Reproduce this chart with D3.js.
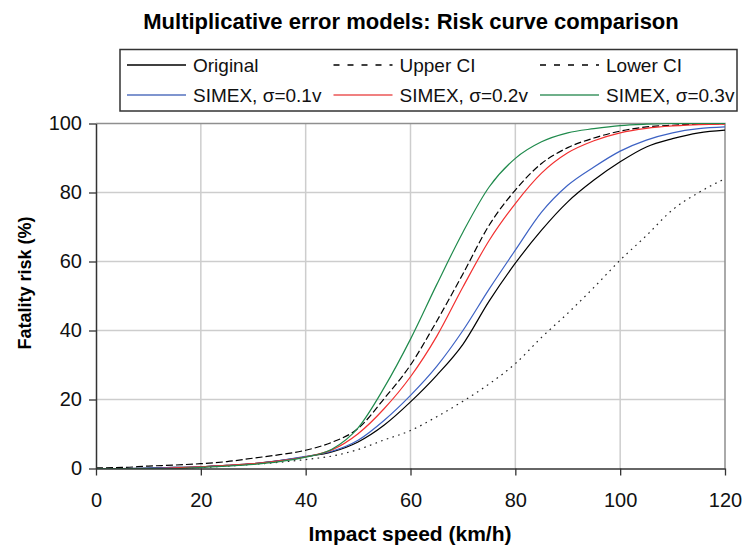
<!DOCTYPE html>
<html>
<head>
<meta charset="utf-8">
<script src="https://cdn.jsdelivr.net/npm/d3@7"></script>
<style>
  body { margin: 0; background: #fff; }
  svg { display: block; font-family: "Liberation Sans", Arial, sans-serif; }
</style>
</head>
<body>
<div id="wrapper"></div>
<script>
// Impact speed (km/h) at which each curve was read
const speeds = [0, 5, 10, 15, 20, 25, 30, 35, 40, 45, 50, 55, 60, 65, 70, 75, 80, 85, 90, 95, 100, 105, 110, 115, 120];

// Fatality risk (%)
const original = [0, 0, 0.1, 0.3, 0.5, 0.9, 1.4, 2.3, 3.4, 4.8, 7.7, 12.6, 19.3, 27, 36, 48.5, 59.5, 69.1, 77.3, 83.6, 88.9, 93.2, 95.6, 97.3, 98.1];
const upperCI = [0.2, 0.3, 0.7, 1.0, 1.4, 2.0, 3.0, 4.0, 5.3, 7.6, 11.6, 20.3, 30, 42.7, 56.4, 70.5, 80.7, 88.4, 93, 95.8, 97.8, 99, 99.5, 99.8, 100];
const lowerCI = [0, 0, 0, 0.1, 0.3, 0.7, 1.2, 1.8, 2.6, 3.6, 5.5, 8.3, 11, 15, 19.5, 24.5, 30.4, 38, 45, 52.5, 60.4, 67.5, 75, 80, 84];
const simex01 = [0, 0, 0.1, 0.3, 0.5, 0.9, 1.4, 2.3, 3.5, 5.0, 8.2, 14.0, 21.2, 29.6, 40, 52, 63.3, 74.3, 82.1, 87.4, 92, 95.2, 97.3, 98.5, 99];
const simex02 = [0, 0, 0, 0.2, 0.5, 0.9, 1.4, 2.2, 3.4, 5.4, 10.1, 17.4, 26.6, 38.3, 52.6, 66.1, 76.8, 85.6, 91.5, 95, 97.3, 98.6, 99.3, 99.7, 99.8];
const simex03 = [0, 0, 0, 0, 0.3, 0.7, 1.2, 2.0, 3.3, 5.6, 11.8, 23.5, 37.5, 53.3, 68.5, 81.6, 89.9, 94.7, 97.3, 98.5, 99.4, 99.8, 100, 100, 100];

const xTicks = [0, 20, 40, 60, 80, 100, 120];
const yTicks = [0, 20, 40, 60, 80, 100];

const title = "Multiplicative error models: Risk curve comparison";
const xTitle = "Impact speed (km/h)";
const yTitle = "Fatality risk (%)";

function draw() {
  const dimensions = {
    width: 743,
    height: 547,
    margin: { top: 123.5, right: 18, bottom: 78.5, left: 96 }
  };

  // series table, in legend order (two rows of three)
  const series = [
    { name: "Original", values: original, color: "#000", legendColor: "#000", dash: null, legendDash: null },
    { name: "Upper CI", values: upperCI, color: "#000", legendColor: "#000", dash: "7,3", legendDash: "6,8" },
    { name: "Lower CI", values: lowerCI, color: "#222", legendColor: "#000", dash: "1.6,4.4", legendDash: "6,8" },
    { name: "SIMEX, σ=0.1v", values: simex01, color: "#3d62c4", legendColor: "#7f95cf", dash: null, legendDash: null },
    { name: "SIMEX, σ=0.2v", values: simex02, color: "#f23030", legendColor: "#f08080", dash: null, legendDash: null },
    { name: "SIMEX, σ=0.3v", values: simex03, color: "#1f8a4c", legendColor: "#6fb08a", dash: null, legendDash: null }
  ];

  const svg = d3.select("#wrapper")
    .append("svg")
    .attr("width", dimensions.width)
    .attr("height", dimensions.height);

  const x = d3.scaleLinear()
    .domain([0, 120])
    .range([dimensions.margin.left, dimensions.width - dimensions.margin.right]);
  const y = d3.scaleLinear()
    .domain([0, 100])
    .range([dimensions.height - dimensions.margin.bottom, dimensions.margin.top]);

  // grid lines
  const grid = svg.append("g");
  grid.selectAll("line.v")
    .data(xTicks.slice(1, -1))
    .enter()
    .append("line")
    .attr("x1", d => x(d)).attr("x2", d => x(d))
    .attr("y1", y(0)).attr("y2", y(100))
    .attr("stroke", "#cdcdcd")
    .attr("stroke-width", 1.5);
  grid.selectAll("line.h")
    .data(yTicks.slice(1, -1))
    .enter()
    .append("line")
    .attr("x1", x(0)).attr("x2", x(120))
    .attr("y1", d => y(d)).attr("y2", d => y(d))
    .attr("stroke", "#cdcdcd")
    .attr("stroke-width", 1.5);

  // plot border (top and right)
  svg.append("path")
    .attr("d", "M" + x(0) + "," + y(100) + "H" + x(120) + "V" + y(0))
    .attr("fill", "none")
    .attr("stroke", "#8f8f8f")
    .attr("stroke-width", 1.5);

  // curves
  const line = d3.line()
    .x((d, i) => x(speeds[i]))
    .y(d => y(d))
    .curve(d3.curveMonotoneX);

  svg.append("g")
    .selectAll("path")
    .data(series)
    .enter()
    .append("path")
    .attr("d", d => line(d.values))
    .attr("fill", "none")
    .attr("stroke", d => d.color)
    .attr("stroke-width", 1.2)
    .attr("stroke-dasharray", d => d.dash);

  // axes
  const xAxis = svg.append("g")
    .attr("transform", "translate(0," + y(0) + ")")
    .call(d3.axisBottom(x).tickValues(xTicks).tickSize(7).tickSizeOuter(0).tickPadding(17));
  const yAxis = svg.append("g")
    .attr("transform", "translate(" + x(0) + ",0)")
    .call(d3.axisLeft(y).tickValues(yTicks).tickSize(7).tickSizeOuter(0).tickPadding(7));
  [xAxis, yAxis].forEach(ax => {
    ax.select(".domain").attr("stroke", "#333").attr("stroke-width", 1.5);
    ax.selectAll(".tick line").attr("stroke", "#333").attr("stroke-width", 1.3);
    ax.selectAll(".tick text")
      .attr("fill", "#111")
      .style("font-size", "20px")
      .style("font-family", "'Liberation Sans', Arial, sans-serif");
  });

  // titles
  svg.append("text")
    .attr("x", 411)
    .attr("y", 28.5)
    .attr("text-anchor", "middle")
    .style("font-size", "22px")
    .style("font-weight", "bold")
    .text(title);
  svg.append("text")
    .attr("x", 410)
    .attr("y", 541)
    .attr("text-anchor", "middle")
    .style("font-size", "21px")
    .style("font-weight", "bold")
    .text(xTitle);
  svg.append("text")
    .attr("transform", "translate(31,283) rotate(-90)")
    .attr("text-anchor", "middle")
    .style("font-size", "18px")
    .style("font-weight", "bold")
    .text(yTitle);

  // legend
  const legend = svg.append("g");
  legend.append("rect")
    .attr("x", 120)
    .attr("y", 49.5)
    .attr("width", 617)
    .attr("height", 61.5)
    .attr("fill", "#fff")
    .attr("stroke", "#333")
    .attr("stroke-width", 1.5);

  const colX = [127, 333.5, 540];
  const rowY = [65, 95];
  const items = legend.selectAll("g.item")
    .data(series)
    .enter()
    .append("g")
    .attr("transform", (d, i) => "translate(" + colX[i % 3] + "," + rowY[Math.floor(i / 3)] + ")");
  items.append("line")
    .attr("x1", 0).attr("x2", 59)
    .attr("y1", 0).attr("y2", 0)
    .attr("stroke", d => d.legendColor)
    .attr("stroke-width", d => d.legendDash || d.legendColor === "#000" ? 1.3 : 2)
    .attr("stroke-dasharray", d => d.legendDash);
  items.append("text")
    .attr("x", 66)
    .attr("y", 6.8)
    .style("font-size", "19px")
    .attr("fill", "#111")
    .text(d => d.name);
}
draw();
</script>
</body>
</html>
